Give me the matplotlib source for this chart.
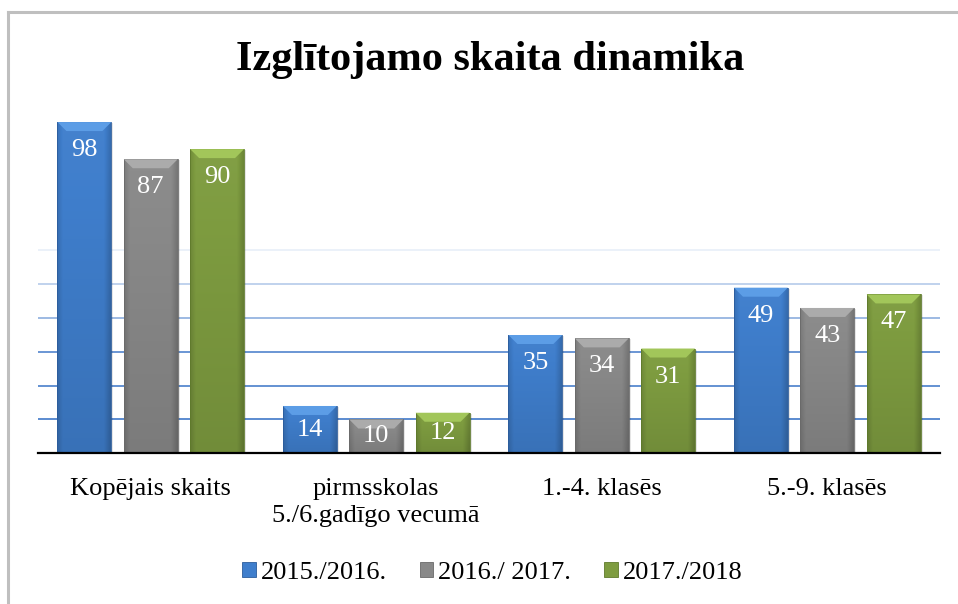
import numpy as np
import matplotlib
matplotlib.use("Agg")
import matplotlib.pyplot as plt
from matplotlib.patches import Rectangle, Polygon, Patch
from matplotlib.lines import Line2D
from matplotlib.colors import to_rgb

# data
categories = ["Kopējais skaits", "pirmsskolas\n5./6.gadīgo vecumā", "1.-4. klasēs", "5.-9. klasēs"]
series_names = ["2015./2016.", "2016./ 2017.", "2017./2018"]
values_2015 = [98, 14, 35, 49]
values_2016 = [87, 10, 34, 43]
values_2017 = [90, 12, 31, 47]
grid_values = [10, 20, 30, 40, 50, 60]

# (base, light bevel, dark edge)
palette = [
    ("#3f7ecc", "#5c9de6", "#2c5c9c"),
    ("#898989", "#ababab", "#6a6a6a"),
    ("#7e9c40", "#a2c65a", "#5f7a2c"),
]

plt.rcParams['font.family'] = ['Liberation Serif', 'DejaVu Serif']

fig = plt.figure(figsize=(9.58, 6.04), dpi=100)
W, H = 958, 604
ax = fig.add_axes([38 / W, 1 - 453.3 / H, (940 - 38) / W, (453.3 - 115.3) / H])

px_x = 1 / 226.0      # data units per pixel, x
px_y = 100 / 338.0    # data units per pixel, y


def shade(c, f):
    r = np.array(to_rgb(c))
    if f >= 0:
        return r + (1 - r) * f
    return r * (1 + f)


def fancy_bar(ax, x, h, w, base, light, dark):
    x0, x1 = x - w / 2, x + w / 2
    # soft shadow
    ax.add_patch(Rectangle((x0 + 2 * px_x, 0), w, h - 1 * px_y, facecolor="#000000",
                           alpha=0.10, lw=0, zorder=2))
    rect = Rectangle((x0, 0), w, h, facecolor="none", edgecolor=dark, lw=0.6, zorder=4)
    ax.add_patch(rect)
    nrow, ncol = 60, 40
    t = np.linspace(0, 1, ncol)
    hprof = -0.12 * np.clip(1 - t / 0.1, 0, 1) - 0.16 * np.clip((t - 0.88) / 0.12, 0, 1)
    vprof = np.linspace(0.03, -0.10, nrow)
    img = np.zeros((nrow, ncol, 3))
    for i in range(nrow):
        for j in range(ncol):
            img[i, j] = shade(base, hprof[j] + vprof[i])
    img = np.clip(img, 0, 1)
    im = ax.imshow(img, extent=(x0, x1, 0, h), aspect='auto', origin='upper',
                   zorder=3, interpolation='bilinear')
    im.set_clip_path(rect)
    bx, by = 9 * px_x, 9 * px_y
    ax.add_patch(Polygon([(x0, h), (x1, h), (x1 - bx, h - by), (x0 + bx, h - by)],
                         closed=True, facecolor=light, edgecolor='none', zorder=4))


all_values = [values_2015, values_2016, values_2017]
bar_w = 54 * px_x
step = 66.5 * px_x
xs = np.arange(len(categories))

for k, vals in enumerate(all_values):
    base, light, dark = palette[k]
    for i, v in enumerate(vals):
        xc = xs[i] + (k - 1) * step
        fancy_bar(ax, xc, v, bar_w, base, light, dark)
        ly = v - min(28 * px_y, v / 2)
        ax.text(xc, ly, str(v), ha='center', va='center', color='white',
                fontsize=19, zorder=6)

# gridlines fading upward
for n, g in enumerate(grid_values):
    a = [1.0, 0.95, 0.9, 0.6, 0.38, 0.12][n]
    ax.axhline(g, color="#5b8bd0", lw=1.4, alpha=a, zorder=1)

ax.set_xlim(-0.5, 3.5)
ax.set_ylim(0, 100)
ax.set_yticks([])
ax.set_xticks(xs)
ax.set_xticklabels(categories, fontsize=19, linespacing=1.3)
ax.tick_params(axis='x', length=0, pad=18)
for s in ['top', 'right', 'left']:
    ax.spines[s].set_visible(False)
ax.spines['bottom'].set_color('black')
ax.spines['bottom'].set_linewidth(1.6)
ax.spines['bottom'].set_zorder(7)

fig.text(490 / W, 1 - 60 / H, "Izglītojamo skaita dinamika", ha='center', va='center',
         fontsize=30.5, fontweight='bold')

handles = [Patch(facecolor=palette[k][0], edgecolor=palette[k][2], lw=0.6) for k in range(3)]
fig.legend(handles, series_names, loc='center', bbox_to_anchor=(492.5 / W, 1 - 573 / H),
           ncol=3, frameon=False, fontsize=19, handlelength=0.5, handleheight=0.5,
           handletextpad=0.2, columnspacing=1.25, borderpad=0)

# chart frame (top and left edges)
fig.add_artist(Line2D([8 / W, 1], [1 - 12 / H, 1 - 12 / H], color="#bfbfbf", lw=2.2))
fig.add_artist(Line2D([8 / W, 8 / W], [0, 1 - 12 / H], color="#bfbfbf", lw=2.2))

fig.savefig("out.png", dpi=100, facecolor='white')
